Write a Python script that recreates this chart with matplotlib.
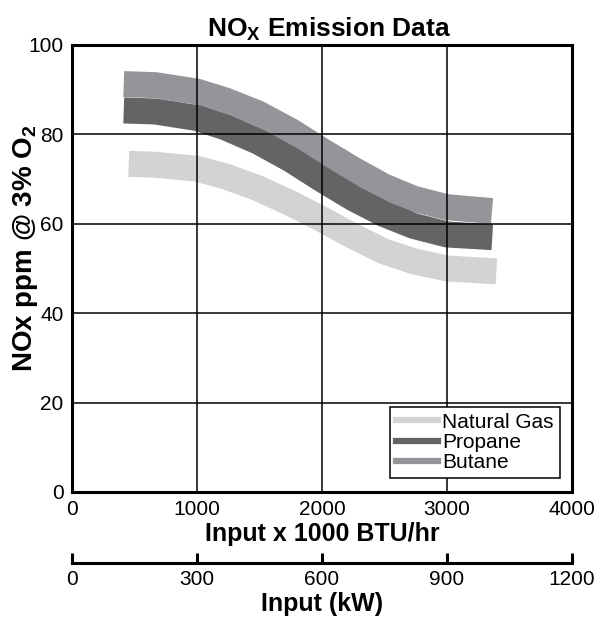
import matplotlib
matplotlib.use('Agg')
import matplotlib.pyplot as plt
from matplotlib.lines import Line2D

plt.rcParams['font.family'] = ['Liberation Sans', 'DejaVu Sans']
plt.rcParams['mathtext.fontset'] = 'custom'
plt.rcParams['mathtext.rm'] = 'Liberation Sans:bold'
plt.rcParams['mathtext.it'] = 'Liberation Sans:bold'
plt.rcParams['mathtext.bf'] = 'Liberation Sans:bold'

# centre line of each band (input x 1000 BTU/hr, NOx ppm)
gas_btu = [454, 669, 1000, 1227, 1487, 1748, 2000, 2250, 2492, 2734, 3000, 3395]
gas_nox = [73.4, 73.2, 72.3, 70.6, 67.95, 64.6, 61.0, 57.2, 53.85, 51.6, 50.0, 49.35]

propane_btu = [414, 669, 1000, 1227, 1487, 1748, 2000, 2250, 2492, 2734, 3000, 3362]
propane_nox = [85.35, 85.1, 83.65, 81.55, 78.4, 74.4, 69.9, 65.7, 62.2, 59.5, 57.6, 57.0]

butane_btu = [414, 669, 1000, 1227, 1487, 1748, 2000, 2250, 2492, 2734, 3000, 3360]
butane_nox = [91.25, 91.0, 89.56, 87.6, 84.7, 80.8, 76.35, 72.15, 68.4, 65.6, 63.7, 62.85]

labels = ['Natural Gas', 'Propane', 'Butane']
colors = ['#d1d3d4', '#636466', '#939598']

btu_ticks = [0, 1000, 2000, 3000, 4000]
nox_ticks = [0, 20, 40, 60, 80, 100]
kw_ticks = [0, 300, 600, 900, 1200]

fig = plt.figure(figsize=(6.02, 6.2), dpi=100)
ax = fig.add_axes([0.1196, 0.2065, 0.8306, 0.721])

band_w = 18.7
ax.plot(butane_btu, butane_nox, color=colors[2], lw=band_w,
        solid_capstyle='butt', solid_joinstyle='round')
ax.plot(propane_btu, propane_nox, color=colors[1], lw=band_w,
        solid_capstyle='butt', solid_joinstyle='round')
ax.plot(gas_btu, gas_nox, color=colors[0], lw=band_w,
        solid_capstyle='butt', solid_joinstyle='round')

ax.set_xlim(0, 4000)
ax.set_ylim(0, 100)
ax.set_xticks(btu_ticks)
ax.set_yticks(nox_ticks)
ax.tick_params(length=0, pad=6, labelsize=15)
ax.grid(True, color='black', lw=1.1)
ax.set_axisbelow(False)
for s in ax.spines.values():
    s.set_linewidth(2.2)

ax.set_title(r'NO$_{\mathrm{X}}$ Emission Data', fontsize=19,
             fontweight='bold', pad=6, x=0.515)
ax.set_xlabel('Input x 1000 BTU/hr', fontsize=18, fontweight='bold', labelpad=2)
ax.set_ylabel(r'NOx ppm @ 3% O$_2$', fontsize=20, fontweight='bold')
ax.yaxis.set_label_coords(-0.064, 0.545)

handles = [Line2D([], [], color=c, lw=4.5) for c in colors]
leg = ax.legend(handles, labels, loc='lower right', bbox_to_anchor=(0.976, 0.031),
                borderaxespad=0, fontsize=15, handlelength=2.0, handletextpad=0.2,
                labelspacing=0.05, borderpad=0.3, fancybox=False, framealpha=1,
                edgecolor='black')
leg.get_frame().set_linewidth(1.1)

# kW scale underneath
ax2 = ax.secondary_xaxis(-0.159, functions=(lambda x: x * 0.3, lambda x: x / 0.3))
ax2.set_xticks(kw_ticks)
ax2.tick_params(direction='in', length=7, width=2.2, pad=5, labelsize=15)
ax2.spines['bottom'].set_linewidth(2.2)
ax2.set_xlabel('Input (kW)', fontsize=18, fontweight='bold', labelpad=2)

fig.savefig('out.png', dpi=100)
